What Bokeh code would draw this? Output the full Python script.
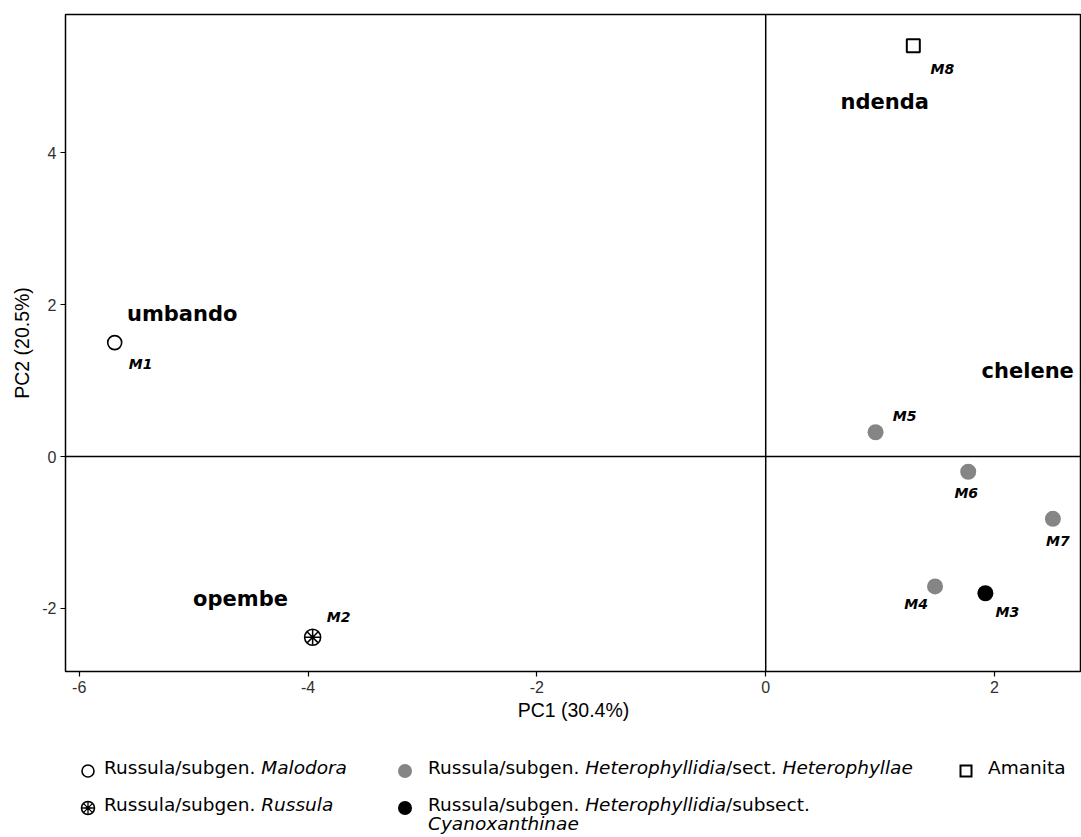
from bokeh.plotting import figure
from bokeh.models import Span, Div, FixedTicker, ColumnDataSource
from bokeh.layouts import column
from bokeh.core.properties import value
from bokeh.embed import file_html
from bokeh.resources import INLINE

# ---- data ----
names = ["M1", "M2", "M3", "M4", "M5", "M6", "M7", "M8"]
pc1 = [-5.69, -3.96, 1.92, 1.48, 0.96, 1.77, 2.51, 1.29]
pc2 = [1.50, -2.38, -1.80, -1.71, 0.32, -0.20, -0.82, 5.41]
groups = ["Malodora", "Russula", "Cyanoxanthinae", "Heterophyllae",
          "Heterophyllae", "Heterophyllae", "Heterophyllae", "Amanita"]

site_names = ["umbando", "opembe", "ndenda", "chelene"]
site_x = [-5.10, -4.59, 1.04, 2.29]
site_y = [1.88, -1.88, 4.67, 1.13]

x_ticks = [-6, -4, -2, 0, 2]
y_ticks = [-2, 0, 2, 4]
x_title = "PC1 (30.4%)"
y_title = "PC2 (20.5%)"

legend_html = [
    "Russula/subgen. <i>Malodora</i>",
    "Russula/subgen. <i>Russula</i>",
    "Russula/subgen. <i>Heterophyllidia</i>/sect. <i>Heterophyllae</i>",
    "Russula/subgen. <i>Heterophyllidia</i>/subsect.<br><i>Cyanoxanthinae</i>",
    "Amanita",
]
legend_groups = ["Malodora", "Russula", "Heterophyllae", "Cyanoxanthinae", "Amanita"]

# ---- styles (not data) ----
label_dx = [26, 26, 22, -19, 29, -2, 5, 29]
label_dy = [21, -20, 19, 18, -16, 21, 22, 23]

p = figure(width=1081, height=730, x_range=(-6.12, 2.76), y_range=(-2.83, 5.82),
           output_backend="svg", toolbar_location=None,
           min_border_left=65, min_border_right=0, min_border_top=14, min_border_bottom=59)
p.grid.visible = False
p.outline_line_color = "black"
p.outline_line_width = 1.5
p.background_fill_color = "white"
p.border_fill_color = "white"

for ax, ticks, title in ((p.xaxis[0], x_ticks, x_title), (p.yaxis[0], y_ticks, y_title)):
    ax.ticker = FixedTicker(ticks=ticks)
    ax.major_label_overrides = {t: str(t) for t in ticks}
    ax.axis_line_color = None
    ax.major_tick_in = 0
    ax.major_tick_out = 5
    ax.major_tick_line_width = 1.2
    ax.minor_tick_line_color = None
    ax.major_label_text_font = "Liberation Sans"
    ax.major_label_text_font_size = "16px"
    ax.major_label_text_color = "#303030"
    ax.axis_label = title
    ax.axis_label_text_font = "Liberation Sans"
    ax.axis_label_text_font_size = "19.5px"
    ax.axis_label_text_font_style = "normal"
    ax.axis_label_text_color = "#000000"
p.xaxis.major_label_standoff = 4
p.xaxis.axis_label_standoff = 3
p.yaxis.major_label_standoff = 4
p.yaxis.axis_label_standoff = 6

p.add_layout(Span(location=0, dimension="height", line_color="black", line_width=1.5))
p.add_layout(Span(location=0, dimension="width", line_color="black", line_width=1.5))

src = ColumnDataSource(dict(x=pc1, y=pc2, name=names, group=groups, dx=label_dx, dy=label_dy))

def sub(g):
    idx = [i for i, gg in enumerate(groups) if gg == g]
    return ColumnDataSource(dict(x=[pc1[i] for i in idx], y=[pc2[i] for i in idx]))

p.scatter("x", "y", source=sub("Malodora"), marker="circle", size=14,
          fill_color="white", line_color="black", line_width=1.6)
p.scatter("x", "y", source=sub("Russula"), marker="circle", size=16,
          fill_color="white", line_color="black", line_width=1.6)
p.scatter("x", "y", source=sub("Russula"), marker="asterisk", size=15,
          line_color="black", line_width=1.5)
p.scatter("x", "y", source=sub("Russula"), marker="circle", size=4,
          fill_color="black", line_color=None)
p.scatter("x", "y", source=sub("Heterophyllae"), marker="circle", size=16,
          fill_color="#858585", line_color=None)
p.scatter("x", "y", source=sub("Cyanoxanthinae"), marker="circle", size=16,
          fill_color="black", line_color=None)
p.scatter("x", "y", source=sub("Amanita"), marker="square", size=13,
          fill_color="white", line_color="black", line_width=2)

p.text("x", "y", text="name", source=src, x_offset="dx", y_offset="dy",
       text_font=value("DejaVu Sans"), text_font_style="bold italic",
       text_font_size="14px", text_align="center", text_baseline="middle",
       text_color="black")

p.text(site_x, site_y, text=site_names, text_font=value("DejaVu Sans"),
       text_font_style="bold", text_font_size="21px", text_align="center",
       text_baseline="middle", text_color="black")

# ---- legend (HTML) ----
def marker_svg(g):
    if g == "Malodora":
        inner = '<circle cx="8" cy="8" r="6" fill="white" stroke="black" stroke-width="1.6"/>'
    elif g == "Russula":
        inner = ('<circle cx="8" cy="8" r="6.5" fill="white" stroke="black" stroke-width="1.6"/>'
                 '<path d="M8 1.5V14.5M1.5 8H14.5M3.4 3.4L12.6 12.6M12.6 3.4L3.4 12.6" stroke="black" stroke-width="1.3"/>'
                 '<circle cx="8" cy="8" r="2" fill="black"/>')
    elif g == "Heterophyllae":
        inner = '<circle cx="8" cy="8" r="7" fill="#858585"/>'
    elif g == "Cyanoxanthinae":
        inner = '<circle cx="8" cy="8" r="7" fill="black"/>'
    else:
        inner = '<rect x="2.5" y="2.5" width="11" height="11" fill="white" stroke="black" stroke-width="2"/>'
    return '<svg width="16" height="16" viewBox="0 0 16 16">' + inner + '</svg>'

mk_x = [88, 88, 405, 405, 966]
tx_x = [104, 104, 428, 428, 988]
row_y = [38, 75, 38, 75, 38]
parts = ['<div style="position:relative;width:1081px;height:107px;'
         'font-family:\'DejaVu Sans\';font-size:18.5px;color:black;">']
for g, h, mx, tx, ry in zip(legend_groups, legend_html, mk_x, tx_x, row_y):
    parts.append('<div style="position:absolute;left:%dpx;top:%dpx;width:16px;height:16px;">%s</div>'
                 % (mx - 8, ry - 8, marker_svg(g)))
    parts.append('<div style="position:absolute;left:%dpx;top:%dpx;line-height:19px;white-space:nowrap;">%s</div>'
                 % (tx, ry - 10, h))
parts.append('</div>')
leg = Div(text="".join(parts), width=1081, height=107, margin=(0, 0, 0, 0))

layout = column(p, leg, spacing=0)
open("out.html", "w").write(file_html(layout, INLINE))
